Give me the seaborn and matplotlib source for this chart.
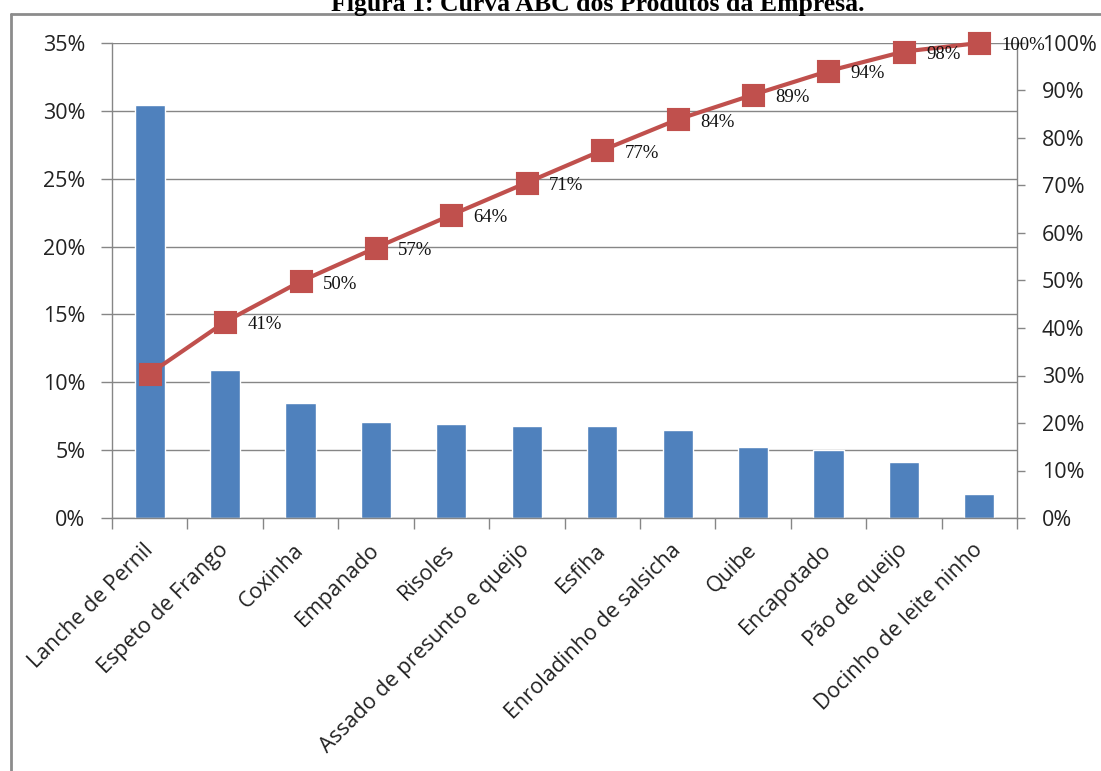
import numpy as np
import pandas as pd
import matplotlib
matplotlib.use("Agg")
import matplotlib.pyplot as plt
from matplotlib.lines import Line2D
import seaborn as sns

# ---- data ----
categories = ["Lanche de Pernil", "Espeto de Frango", "Coxinha", "Empanado", "Risoles",
              "Assado de presunto e queijo", "Esfiha", "Enroladinho de salsicha", "Quibe",
              "Encapotado", "Pão de queijo", "Docinho de leite ninho"]
share_pct = [30.4, 10.9, 8.5, 7.1, 6.9, 6.8, 6.8, 6.5, 5.2, 5.0, 4.1, 1.8]
cumulative_pct = [30.4, 41.3, 49.8, 56.9, 63.8, 70.6, 77.4, 83.9, 89.1, 94.1, 98.2, 100.0]
cum_labels = ["", "41%", "50%", "57%", "64%", "71%", "77%", "84%", "89%", "94%", "98%", "100%"]
left_ticks = [0, 5, 10, 15, 20, 25, 30, 35]
right_ticks = [0, 10, 20, 30, 40, 50, 60, 70, 80, 90, 100]
title = "Figura 1: Curva ABC dos Produtos da Empresa."

BAR = "#4F81BD"
LINE = "#C0504D"
GRID = "#868686"
TXT = "#222222"

sns.set_theme(style="white")
plt.rcParams["font.family"] = ["Open Sans", "DejaVu Sans"]

df = pd.DataFrame({"cat": categories, "share": share_pct, "cum": cumulative_pct})

W, H = 1101, 771
fig = plt.figure(figsize=(W / 100, H / 100), dpi=100)
L, R, T, B = 112, 1017, 43, 518
ax = fig.add_axes([L / W, 1 - B / H, (R - L) / W, (B - T) / H])

sns.barplot(data=df, x="cat", y="share", order=categories, color=BAR, saturation=1,
            width=0.4, ax=ax, zorder=2)
ax.set_xlim(-0.5, len(categories) - 0.5)
ax.set_ylim(0, 35)
ax.set_yticks(left_ticks)
ax.set_yticklabels([f"{v}%" for v in left_ticks], fontsize=15.5, color=TXT)
ax.set_xlabel("")
ax.set_ylabel("")
ax.yaxis.grid(True, color=GRID, lw=1)
ax.xaxis.grid(False)
ax.set_axisbelow(True)
for s in ["top", "right"]:
    ax.spines[s].set_visible(False)
for s in ["left", "bottom"]:
    ax.spines[s].set_color(GRID)
    ax.spines[s].set_linewidth(1)
ax.tick_params(axis="y", which="major", direction="out", length=8, width=1, color=GRID, pad=11, left=True)
ax.set_xticks(range(len(categories)))
ax.set_xticklabels(categories, rotation=45, ha="right", va="center", rotation_mode="anchor",
                   fontsize=15.5, color=TXT)
ax.set_xticks(np.arange(-0.5, len(categories), 1.0), minor=True)
ax.tick_params(axis="x", which="major", length=0, pad=21, bottom=True)
ax.tick_params(axis="x", which="minor", direction="out", length=8, width=1, color=GRID, bottom=True)

ax2 = ax.twinx()
sns.pointplot(data=df, x="cat", y="cum", order=categories, color=LINE, markers="s",
              markersize=14, linewidth=3, ax=ax2)
for ln in ax2.lines:
    ln.set_clip_on(False)
ax2.set_xlim(-0.5, len(categories) - 0.5)
ax2.set_ylim(0, 100)
ax2.set_yticks(right_ticks)
ax2.set_yticklabels([f"{v}%" for v in right_ticks], fontsize=15.5, color=TXT)
ax2.set_ylabel("")
ax2.set_xlabel("")
ax2.grid(False)
for s in ["top", "left", "bottom"]:
    ax2.spines[s].set_visible(False)
ax2.spines["right"].set_color(GRID)
ax2.spines["right"].set_linewidth(1)
ax2.tick_params(axis="y", direction="out", length=6, width=1, color=GRID, pad=12, right=True)

for i, (v, lab) in enumerate(zip(cumulative_pct, cum_labels)):
    if lab:
        ax2.annotate(lab, (i, v), xytext=(16, -2), textcoords="offset points",
                     ha="left", va="center", fontsize=13.5, color="#111111",
                     family=["Liberation Serif"], annotation_clip=False)

# outer frame and title
fig.add_artist(Line2D([11 / W, 11 / W], [0, 1 - 14 / H], transform=fig.transFigure,
                      color="#8c8c8c", lw=2))
fig.add_artist(Line2D([11 / W, 1], [1 - 14 / H, 1 - 14 / H], transform=fig.transFigure,
                      color="#8c8c8c", lw=2))
fig.text(598 / W, 1 - 11 / H, title, ha="center", va="baseline", fontsize=18.5,
         fontweight="bold", family=["Liberation Serif"], color="black")

fig.savefig("out.png", dpi=100)
